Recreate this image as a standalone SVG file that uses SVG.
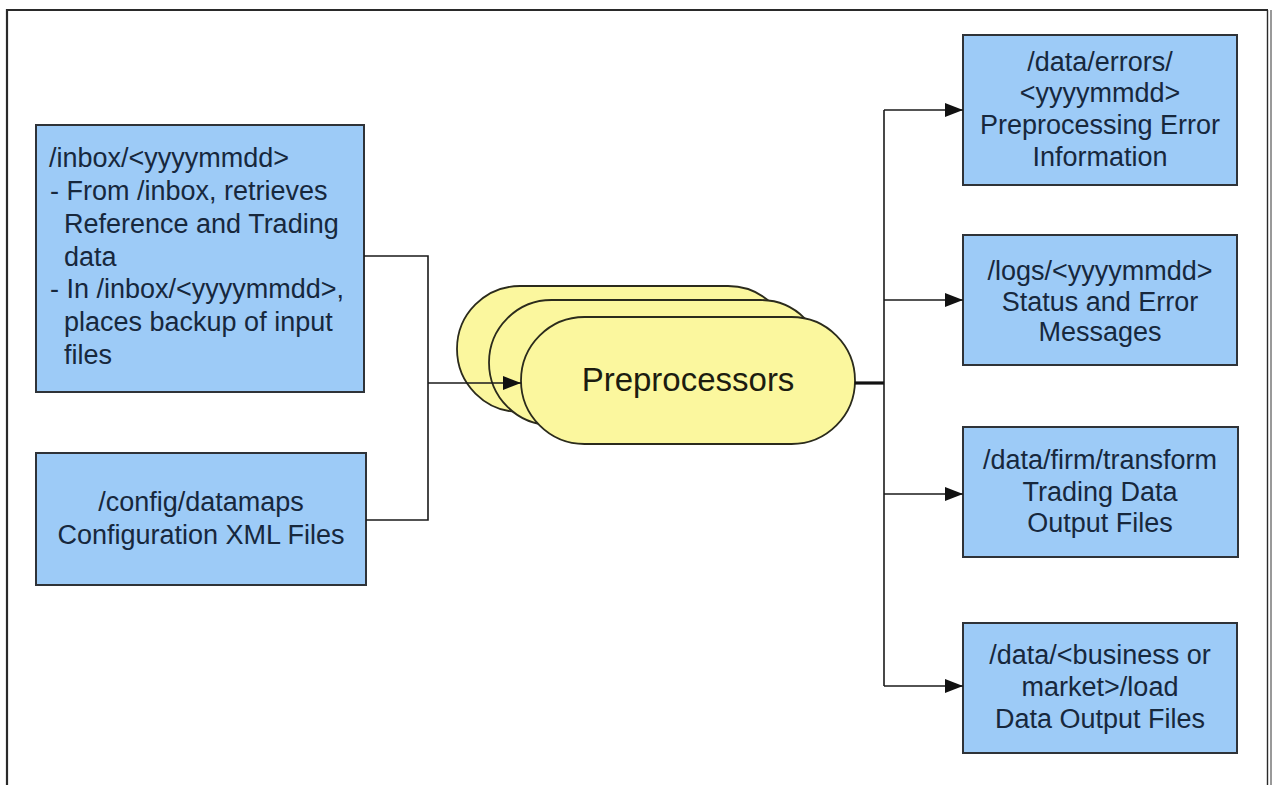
<svg xmlns="http://www.w3.org/2000/svg" width="1277" height="785" viewBox="0 0 1277 785">
<style>
.box{fill:#9dcbf7;stroke:#2f3338;stroke-width:2}
.pill{fill:#fbf79e;stroke:#2b2b1c;stroke-width:1.8}
.t{font-family:"Liberation Sans",Arial,sans-serif;font-size:27px;fill:#17283d}
.c{text-anchor:middle}
.ln{fill:none;stroke:#1a1a1a;stroke-width:1.6}
.frame{fill:none;stroke:#2a2a2a;stroke-width:2.2}
</style>
<defs>
<marker id="ah" viewBox="0 0 18 14" refX="18" refY="7" markerWidth="18" markerHeight="14" markerUnits="userSpaceOnUse" orient="auto">
<path d="M0,0 L18,7 L0,14 Z" fill="#111"/>
</marker>
</defs>
<rect width="1277" height="785" fill="#fff"/>
<g id="frame">
<path class="frame" d="M7,790 V10 H1268"/>
<line x1="1267.5" y1="10" x2="1267.5" y2="790" stroke="#2a2a2a" stroke-width="1.4"/>
<line x1="1271" y1="10" x2="1271" y2="790" stroke="#555" stroke-width="1.2"/>
</g>
<g id="inbox">
<rect class="box" x="36" y="125" width="328" height="267"/>
<text class="t" x="49" y="167">/inbox/&lt;yyyymmdd&gt;</text>
<text class="t" x="50" y="200">- From /inbox, retrieves</text>
<text class="t" x="64" y="233">Reference and Trading</text>
<text class="t" x="64" y="266">data</text>
<text class="t" x="50" y="298">- In /inbox/&lt;yyyymmdd&gt;,</text>
<text class="t" x="64" y="331">places backup of input</text>
<text class="t" x="64" y="364">files</text>
</g>
<g id="config">
<rect class="box" x="36" y="453" width="330" height="132"/>
<text class="t c" x="201" y="511">/config/datamaps</text>
<text class="t c" x="201" y="544">Configuration XML Files</text>
</g>
<g id="preprocessors">
<rect class="pill" x="457" y="286" width="334" height="126" rx="63" ry="63"/>
<rect class="pill" x="489" y="300" width="334" height="125" rx="62.5" ry="62.5"/>
<rect class="pill" x="521" y="317" width="334" height="127" rx="63.5" ry="63.5"/>
<text class="t c" x="688" y="391" style="font-size:33px;fill:#1c1c10">Preprocessors</text>
</g>
<g id="errors">
<rect class="box" x="963" y="35" width="274" height="150"/>
<text class="t c" x="1100" y="71">/data/errors/</text>
<text class="t c" x="1100" y="102">&lt;yyyymmdd&gt;</text>
<text class="t c" x="1100" y="134">Preprocessing Error</text>
<text class="t c" x="1100" y="166">Information</text>
</g>
<g id="logs">
<rect class="box" x="963" y="235" width="274" height="130"/>
<text class="t c" x="1100" y="280">/logs/&lt;yyyymmdd&gt;</text>
<text class="t c" x="1100" y="311">Status and Error</text>
<text class="t c" x="1100" y="341">Messages</text>
</g>
<g id="transform">
<rect class="box" x="963" y="427" width="275" height="130"/>
<text class="t c" x="1100" y="469">/data/firm/transform</text>
<text class="t c" x="1100" y="501">Trading Data</text>
<text class="t c" x="1100" y="532">Output Files</text>
</g>
<g id="load">
<rect class="box" x="963" y="623" width="274" height="130"/>
<text class="t c" x="1100" y="664">/data/&lt;business or</text>
<text class="t c" x="1100" y="696">market&gt;/load</text>
<text class="t c" x="1100" y="728">Data Output Files</text>
</g>
<g id="connectors">
<path class="ln" d="M364,256 H428 V520 H366"/>
<path class="ln" d="M428,383 H521" marker-end="url(#ah)"/>
<path d="M855,383 H884" stroke="#111" stroke-width="3.2" fill="none"/>
<path class="ln" d="M884,110 V686"/>
<path class="ln" d="M884,110 H963" marker-end="url(#ah)"/>
<path class="ln" d="M884,300 H963" marker-end="url(#ah)"/>
<path class="ln" d="M884,494 H963" marker-end="url(#ah)"/>
<path class="ln" d="M884,686 H963" marker-end="url(#ah)"/>
</g>
</svg>
